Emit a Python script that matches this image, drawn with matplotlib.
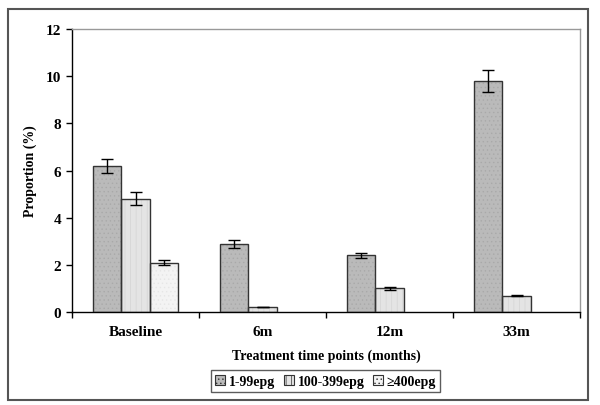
import matplotlib.pyplot as plt
from matplotlib.patches import Rectangle, Patch
import numpy as np

categories = ['Baseline', '6m', '12m', '33m']
series_names = ['1-99epg', '100-399epg', '\u2265400epg']
low = [6.2, 2.9, 2.4, 9.8]
low_err = [0.3, 0.17, 0.1, 0.47]
mid = [4.8, 0.2, 1.0, 0.7]
mid_err = [0.27, 0.0, 0.05, 0.03]
high = [2.1, np.nan, np.nan, np.nan]
high_err = [0.1, np.nan, np.nan, np.nan]

faces = ['#bababa', '#e4e4e4', '#f3f3f3']
hatch_cols = ['#a9a9a9', '#d4d4d4', '#e6e6e6']
hatches = ['....', '|||', '....']

plt.rcParams['font.family'] = ['Liberation Serif', 'DejaVu Serif']
plt.rcParams['font.weight'] = 'bold'
plt.rcParams['hatch.linewidth'] = 0.5

fig = plt.figure(figsize=(6.0, 4.06), dpi=100)
ax = fig.add_axes([0.12, 0.229, 0.8467, 0.697])

# outer frame
fig.patches.append(Rectangle((0.013, 0.012), 0.967, 0.963, transform=fig.transFigure,
                             fill=False, edgecolor='#555555', linewidth=1.5))

x = np.arange(len(categories))
w = 0.225
data = [(low, low_err), (mid, mid_err), (high, high_err)]
for i, (vals, errs) in enumerate(data):
    pos = x + (i - 1) * w
    ax.bar(pos, vals, w, color=faces[i], edgecolor='none', zorder=2)
    ax.bar(pos, vals, w, color='none', edgecolor=hatch_cols[i], hatch=hatches[i],
           linewidth=0, zorder=2)
    ax.bar(pos, vals, w, color='none', edgecolor='#333333', linewidth=1.0, zorder=3)
    ax.errorbar(pos, vals, yerr=errs, fmt='none', ecolor='black', elinewidth=1.0,
                capsize=4, capthick=1.0, zorder=4)

ax.set_xlim(-0.5, 3.5)
ax.set_ylim(0, 12)
ax.set_yticks(np.arange(0, 13, 2))
ax.set_xticks(x)
ax.set_xticklabels(categories)
ax.set_xticks(np.arange(-0.5, 4.0, 1.0), minor=True)
ax.tick_params(axis='x', which='major', length=0, pad=9, labelsize=11)
ax.tick_params(axis='x', which='minor', length=4, direction='out', width=1)
ax.tick_params(axis='y', length=4, direction='out', width=1, labelsize=11, pad=4)

for s in ['top', 'right']:
    ax.spines[s].set_color('#999999')
    ax.spines[s].set_linewidth(1.0)
for s in ['left', 'bottom']:
    ax.spines[s].set_color('black')
    ax.spines[s].set_linewidth(1.0)

ax.set_xlabel('Treatment time points (months)', fontsize=10, fontweight='bold', labelpad=8)
ax.set_ylabel('Proportion (%)', fontsize=10, fontweight='bold', labelpad=6)

handles = [Patch(facecolor=faces[i], edgecolor='#333333', hatch=hatches[i], linewidth=0.8)
           for i in range(3)]
leg = fig.legend(handles, series_names, loc='center', bbox_to_anchor=(0.543, 0.059),
                 ncol=3, fontsize=10, frameon=True, fancybox=False, edgecolor='#333333',
                 handlelength=0.7, handleheight=0.7, handletextpad=0.3,
                 columnspacing=0.6, borderpad=0.3, borderaxespad=0)
leg.get_frame().set_linewidth(1.0)

fig.savefig('out.png', dpi=100)
